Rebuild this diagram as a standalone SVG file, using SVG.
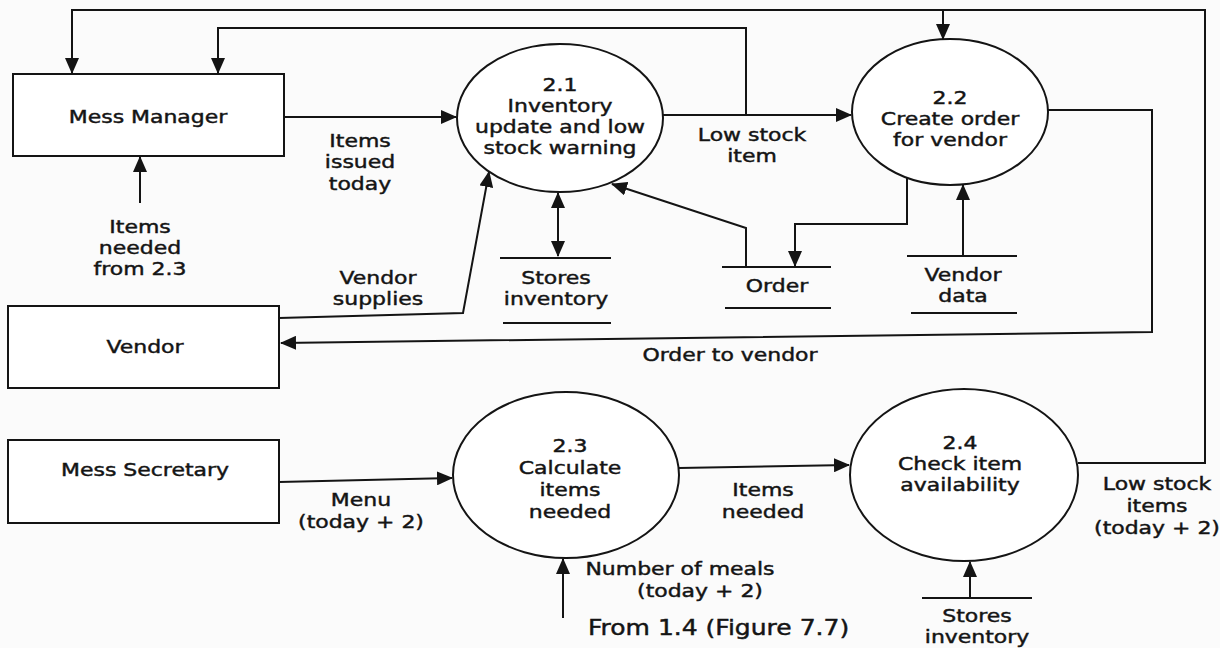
<svg xmlns="http://www.w3.org/2000/svg" width="1220" height="648" viewBox="0 0 1220 648">
  <defs>
    <marker id="arrow" markerUnits="userSpaceOnUse" markerWidth="16" markerHeight="14" refX="15" refY="7" orient="auto-start-reverse">
      <path d="M0,0 L16,7 L0,14 z" fill="#141414"/>
    </marker>
    <style>
      .box { fill: #ffffff; stroke: #141414; stroke-width: 2; }
      .proc { fill: #ffffff; stroke: #141414; stroke-width: 2; }
      .store { stroke: #141414; stroke-width: 2; fill: none; }
      .flow { fill: none; stroke: #141414; stroke-width: 2; }
      .arr { marker-end: url(#arrow); }
      text { font-family: "DejaVu Sans", "Liberation Sans", sans-serif; font-size: 18px; fill: #141414; stroke: #141414; stroke-width: 0.45px; text-anchor: middle; }
      .big { font-size: 20.5px; text-anchor: start; }
    </style>
  </defs>

  <rect width="1220" height="648" fill="#fbfbfb"/>

  <!-- external entities (labels are widened with a horizontal scale) -->
  <g id="mess-manager">
    <rect class="box" x="13" y="74" width="271" height="82"/>
    <text transform="translate(148,123) scale(1.22,1)">Mess Manager</text>
  </g>
  <g id="vendor">
    <rect class="box" x="8" y="306" width="271" height="82"/>
    <text transform="translate(145,353) scale(1.22,1)">Vendor</text>
  </g>
  <g id="mess-secretary">
    <rect class="box" x="8" y="440" width="271" height="83"/>
    <text transform="translate(145,476) scale(1.22,1)">Mess Secretary</text>
  </g>

  <!-- processes -->
  <g id="p2-1">
    <ellipse class="proc" cx="560" cy="118" rx="103" ry="74"/>
    <text transform="translate(560,91) scale(1.22,1)">2.1</text>
    <text transform="translate(560,112) scale(1.22,1)">Inventory</text>
    <text transform="translate(560,133) scale(1.22,1)">update and low</text>
    <text transform="translate(560,154) scale(1.22,1)">stock warning</text>
  </g>
  <g id="p2-2">
    <ellipse class="proc" cx="950" cy="112" rx="98" ry="73"/>
    <text transform="translate(950,104) scale(1.22,1)">2.2</text>
    <text transform="translate(950,125) scale(1.22,1)">Create order</text>
    <text transform="translate(950,146) scale(1.22,1)">for vendor</text>
  </g>
  <g id="p2-3">
    <ellipse class="proc" cx="566" cy="475" rx="113" ry="83"/>
    <text transform="translate(570,452) scale(1.22,1)">2.3</text>
    <text transform="translate(570,474) scale(1.22,1)">Calculate</text>
    <text transform="translate(570,496) scale(1.22,1)">items</text>
    <text transform="translate(570,518) scale(1.22,1)">needed</text>
  </g>
  <g id="p2-4">
    <ellipse class="proc" cx="964" cy="475" rx="114" ry="86"/>
    <text transform="translate(960,449) scale(1.22,1)">2.4</text>
    <text transform="translate(960,470) scale(1.22,1)">Check item</text>
    <text transform="translate(960,491) scale(1.22,1)">availability</text>
  </g>

  <!-- data stores -->
  <g id="store-inventory">
    <line class="store" x1="500" y1="258" x2="611" y2="258"/>
    <line class="store" x1="503" y1="323" x2="611" y2="323"/>
    <text transform="translate(556,284) scale(1.22,1)">Stores</text>
    <text transform="translate(556,305) scale(1.22,1)">inventory</text>
  </g>
  <g id="store-order">
    <line class="store" x1="722" y1="267" x2="831" y2="267"/>
    <line class="store" x1="725" y1="308" x2="831" y2="308"/>
    <text transform="translate(777,292) scale(1.22,1)">Order</text>
  </g>
  <g id="store-vendor-data">
    <line class="store" x1="907" y1="256" x2="1017" y2="256"/>
    <line class="store" x1="911" y1="313" x2="1017" y2="313"/>
    <text transform="translate(963,281) scale(1.22,1)">Vendor</text>
    <text transform="translate(963,302) scale(1.22,1)">data</text>
  </g>
  <g id="store-inventory-2">
    <line class="store" x1="922" y1="598" x2="1032" y2="598"/>
    <text transform="translate(977,622) scale(1.22,1)">Stores</text>
    <text transform="translate(977,643) scale(1.22,1)">inventory</text>
  </g>

  <!-- data flows -->
  <g id="connectors">
    <polyline class="flow arr" points="1078,463 1205,463 1205,10 72,10 72,73"/>
    <line class="flow arr" x1="943" y1="10" x2="943" y2="39"/>
    <line class="flow arr" x1="663" y1="115" x2="851" y2="115"/>
    <polyline class="flow arr" points="746,115 746,28 218,28 218,73"/>
    <line class="flow arr" x1="284" y1="117" x2="456" y2="117"/>
    <line class="flow arr" x1="140" y1="203" x2="140" y2="157"/>
    <polyline class="flow arr" points="279,318 463,313 489,172"/>
    <line class="flow arr" x1="558" y1="256" x2="558" y2="193" marker-start="url(#arrow)"/>
    <polyline class="flow arr" points="746,267 746,228 612,184"/>
    <polyline class="flow arr" points="907,178 907,224 795,224 795,266"/>
    <line class="flow arr" x1="963" y1="255" x2="963" y2="185"/>
    <polyline class="flow arr" points="1048,110 1152,110 1152,332 281,343"/>
    <line class="flow arr" x1="279" y1="482" x2="452" y2="478"/>
    <line class="flow arr" x1="679" y1="468" x2="849" y2="465"/>
    <line class="flow arr" x1="563" y1="618" x2="563" y2="559"/>
    <line class="flow arr" x1="970" y1="597" x2="970" y2="562"/>

    <text transform="translate(360,147) scale(1.22,1)">Items</text>
    <text transform="translate(360,168) scale(1.22,1)">issued</text>
    <text transform="translate(360,190) scale(1.22,1)">today</text>
    <text transform="translate(140,233) scale(1.22,1)">Items</text>
    <text transform="translate(140,254) scale(1.22,1)">needed</text>
    <text transform="translate(140,275) scale(1.22,1)">from 2.3</text>
    <text transform="translate(378,284) scale(1.22,1)">Vendor</text>
    <text transform="translate(378,305) scale(1.22,1)">supplies</text>
    <text transform="translate(752,141) scale(1.22,1)">Low stock</text>
    <text transform="translate(752,162) scale(1.22,1)">item</text>
    <text transform="translate(730,361) scale(1.22,1)">Order to vendor</text>
    <text transform="translate(361,506) scale(1.22,1)">Menu</text>
    <text transform="translate(361,528) scale(1.22,1)">(today + 2)</text>
    <text transform="translate(763,496) scale(1.22,1)">Items</text>
    <text transform="translate(763,518) scale(1.22,1)">needed</text>
    <text transform="translate(680,575) scale(1.22,1)">Number of meals</text>
    <text transform="translate(700,597) scale(1.22,1)">(today + 2)</text>
    <text class="big" transform="translate(588,635) scale(1.22,1)">From 1.4 (Figure 7.7)</text>
    <text transform="translate(1157,490) scale(1.22,1)">Low stock</text>
    <text transform="translate(1157,512) scale(1.22,1)">items</text>
    <text transform="translate(1157,534) scale(1.22,1)">(today + 2)</text>
  </g>
</svg>
